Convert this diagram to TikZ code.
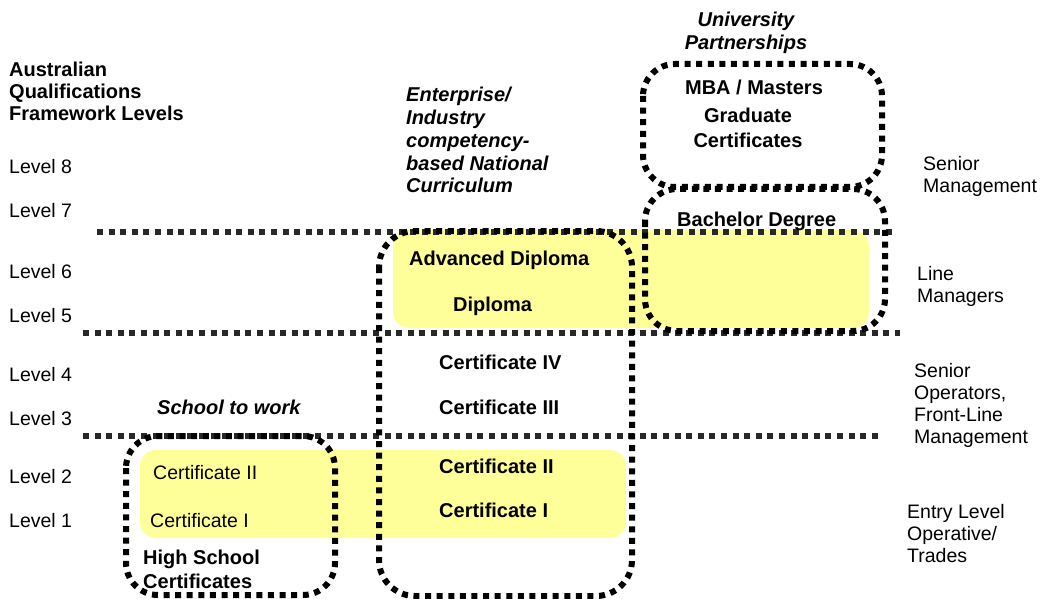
\documentclass[tikz,border=0pt]{standalone}
\usepackage{fontspec}
\setmainfont{Liberation Sans}
\definecolor{hlyellow}{RGB}{255,255,153}
\definecolor{lineGray}{RGB}{40,40,40}
\begin{document}
\begin{tikzpicture}[x=1pt,y=-1pt,
  txt/.style={inner sep=0pt, anchor=base west, align=left, font=\fontsize{19.5}{22}\selectfont},
  btxt/.style={txt, font=\fontsize{20}{22}\selectfont\bfseries},
  bctxt/.style={btxt, anchor=base, align=center},
  bitxt/.style={txt, font=\fontsize{20}{22.8}\selectfont\bfseries\itshape},
  hline/.style={draw=lineGray, line width=5.5pt, dash pattern=on 6pt off 5.6pt},
  dotbox/.style={draw=black, line width=6pt, dash pattern=on 6pt off 5.6pt, rounded corners=32pt},
  ybox/.style={fill=hlyellow, rounded corners=16pt}]
\useasboundingbox (0,0) rectangle (1042,599);
\fill[white] (0,0) rectangle (1042,599);

% yellow bands
\path[ybox] (393,230) rectangle (869,328);
\path[ybox] (140,450) rectangle (626,538);

% level separators
\draw[hline] (97,232) -- (897,232);
\draw[hline] (83,333) -- (900,333);
\draw[hline] (83,436) -- (880,436);

% dotted groups
\draw[dotbox] (126,436) rectangle (335,595);
\draw[dotbox, rounded corners=36pt] (379,231) rectangle (632,596);
\draw[dotbox] (643,64) rectangle (882,187);
\draw[dotbox] (645,189) rectangle (885,331);

% left column (multi-line nodes are placed at the baseline of their last line)
\node[btxt] (aqf) at (9,121) {Australian\\Qualifications\\Framework Levels};
\node[txt] (l8) at (9,174) {Level 8};
\node[txt] (l7) at (9,218) {Level 7};
\node[txt] (l6) at (9,278) {Level 6};
\node[txt] (l5) at (9,322) {Level 5};
\node[txt] (l4) at (9,381) {Level 4};
\node[txt] (l3) at (9,425) {Level 3};
\node[txt] (l2) at (9,483) {Level 2};
\node[txt] (l1) at (9,527) {Level 1};

% headings
\node[bitxt, anchor=base, align=center, font=\fontsize{20}{23}\selectfont\bfseries\itshape] (uni) at (746,50) {University\\Partnerships};
\node[bitxt] (ent) at (406,193) {Enterprise/\\Industry\\competency-\\based National\\Curriculum};
\node[bitxt] (stw) at (157,414) {School to work};

% university
\node[bctxt] (mba) at (754,95) {MBA / Masters};
\node[bctxt, font=\fontsize{20}{25}\selectfont\bfseries] (grad) at (748,148) {Graduate\\Certificates};
\node[btxt] (bach) at (677,226) {Bachelor Degree};

% national curriculum
\node[btxt] (adv) at (409,265) {Advanced Diploma};
\node[btxt] (dip) at (453,311) {Diploma};
\node[btxt] (c4) at (439,369) {Certificate IV};
\node[btxt] (c3) at (439,414) {Certificate III};
\node[btxt] (c2) at (439,473) {Certificate II};
\node[btxt] (c1) at (439,517) {Certificate I};

% school
\node[txt] (sc2) at (153,479) {Certificate II};
\node[txt] (sc1) at (150,527) {Certificate I};
\node[btxt, font=\fontsize{20}{24}\selectfont\bfseries] (hs) at (143,588) {High School\\Certificates};

% right column
\node[txt] (sm) at (923,193) {Senior\\Management};
\node[txt] (lm) at (917,302) {Line\\Managers};
\node[txt] (so) at (914,443) {Senior\\Operators,\\Front-Line\\Management};
\node[txt] (el) at (907,562) {Entry Level\\Operative/\\Trades};
\end{tikzpicture}
\end{document}
